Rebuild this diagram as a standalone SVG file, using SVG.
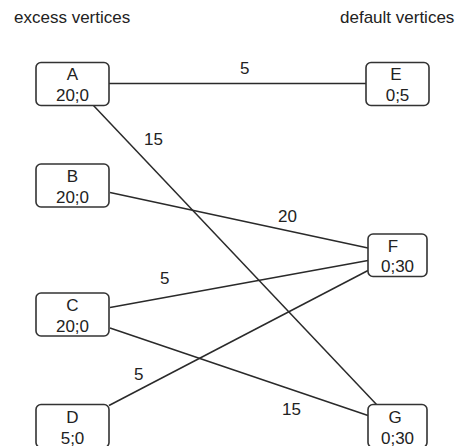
<svg xmlns="http://www.w3.org/2000/svg" width="464" height="446" viewBox="0 0 464 446">
<style>
.node rect{fill:#fff;stroke:#333;stroke-width:1.6}
text{font-family:"Liberation Sans",Arial,sans-serif;font-size:17px;fill:#222}
.node text{text-anchor:middle}
.edges line{stroke:#2a2a2a;stroke-width:1.5}
</style>
<rect width="464" height="446" fill="#fff"/>
<text x="14" y="23">excess vertices</text>
<text x="340" y="23">default vertices</text>
<g class="edges" id="connectors">
<line x1="109" y1="83.5" x2="366" y2="83.5"/>
<line x1="93" y1="105" x2="377" y2="405"/>
<line x1="110" y1="192.5" x2="368" y2="248"/>
<line x1="110" y1="307.5" x2="368" y2="260.5"/>
<line x1="110" y1="328" x2="368" y2="415.5"/>
<line x1="109" y1="405.5" x2="368" y2="270.5"/>
<text x="240" y="74">5</text>
<text x="144" y="145">15</text>
<text x="278" y="222">20</text>
<text x="160" y="284">5</text>
<text x="134" y="380">5</text>
<text x="282" y="415">15</text>
</g>
<g class="node" id="A"><rect x="36" y="62.5" width="73" height="43" rx="5"/><text x="72.5" y="80">A</text><text x="72.5" y="101">20;0</text></g>
<g class="node" id="B"><rect x="36" y="164" width="73" height="43" rx="5"/><text x="72.5" y="182">B</text><text x="72.5" y="203">20;0</text></g>
<g class="node" id="C"><rect x="36" y="293" width="73" height="43" rx="5"/><text x="72.5" y="311">C</text><text x="72.5" y="332">20;0</text></g>
<g class="node" id="D"><rect x="36" y="404.5" width="73" height="43" rx="5"/><text x="72.5" y="422.5">D</text><text x="72.5" y="443.5">5;0</text></g>
<g class="node" id="E"><rect x="366" y="62.5" width="63" height="43" rx="5"/><text x="396" y="80">E</text><text x="397.5" y="101">0;5</text></g>
<g class="node" id="F"><rect x="368" y="234" width="59" height="42.5" rx="5"/><text x="393" y="252">F</text><text x="397.5" y="272">0;30</text></g>
<g class="node" id="G"><rect x="368" y="404.5" width="59" height="43" rx="5"/><text x="395" y="422.5">G</text><text x="397.5" y="443.5">0;30</text></g>
</svg>
